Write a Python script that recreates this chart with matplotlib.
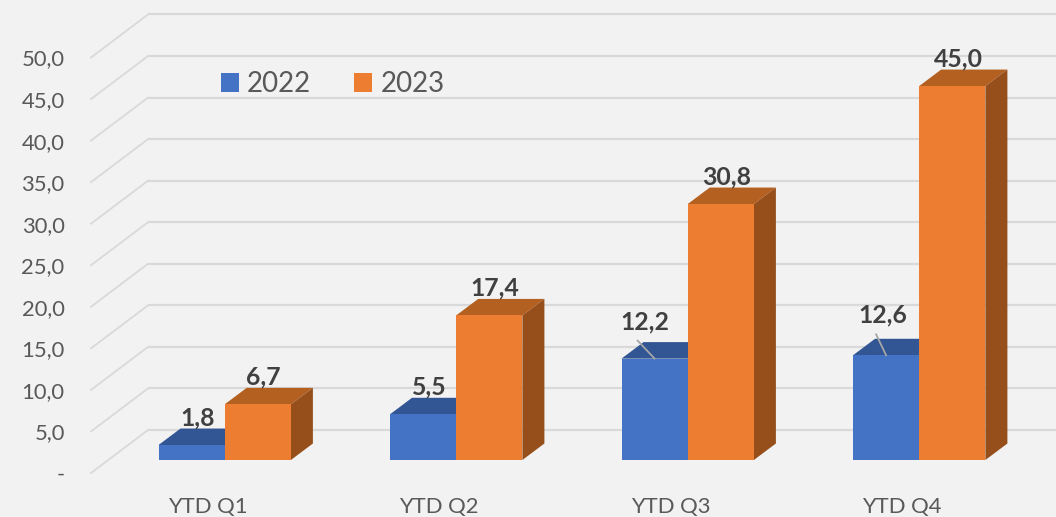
import numpy as np
import matplotlib
matplotlib.use("Agg")
import matplotlib.pyplot as plt
from matplotlib.patches import Polygon

categories = ["YTD Q1", "YTD Q2", "YTD Q3", "YTD Q4"]
series_2022 = [1.8, 5.5, 12.2, 12.6]
series_2023 = [6.7, 17.4, 30.8, 45.0]
ticks = [0, 5, 10, 15, 20, 25, 30, 35, 40, 45, 50]

W, H = 1056, 517
PX = 8.31                 # pixels per value unit
FLOOR_PX = 473            # pixel row of the front floor edge
BASE_PX = 460             # pixel row of the bar feet
front_off = (BASE_PX - FLOOR_PX) / PX
back_off = (BASE_PX - 430) / PX
depth_x, depth_y = 22.0, 16.5 / PX
bar_w = 66.2
x0, step = 158.5, 231.5
wall_x = 148

BG = "#F2F2F2"
plt.rcParams["font.family"] = ["Lato", "DejaVu Sans"]
fig = plt.figure(figsize=(W / 100, H / 100), dpi=100, facecolor=BG)
ax = fig.add_axes([91 / W, (H - FLOOR_PX) / H, (W - 91) / W, FLOOR_PX / H], facecolor=BG)
ax.set_xlim(91, W)
ax.set_ylim(front_off, BASE_PX / PX)
for s in ax.spines.values():
    s.set_visible(False)

def fmt(v):
    return f"{v:.1f}".replace(".", ",")

# walls
for t in ticks:
    ax.plot([wall_x, W], [t + back_off] * 2, color="#D9D9D9", lw=1.6, zorder=1, solid_capstyle="butt")
    ax.plot([91, wall_x], [t + front_off, t + back_off], color="#D9D9D9", lw=1.3, zorder=1, clip_on=False)

xs = x0 + step * np.arange(len(categories))

def bars(x, vals, front, top, side, z, label):
    ax.bar(x, vals, bar_w, align="edge", color=front, zorder=z + 1, label=label)
    for xi, v in zip(x, vals):
        ax.add_patch(Polygon([(xi, v), (xi + bar_w, v), (xi + bar_w + depth_x, v + depth_y), (xi + depth_x, v + depth_y)],
                             closed=True, facecolor=top, edgecolor="none", zorder=z))
        ax.add_patch(Polygon([(xi + bar_w, 0), (xi + bar_w + depth_x, depth_y), (xi + bar_w + depth_x, v + depth_y), (xi + bar_w, v)],
                             closed=True, facecolor=side, edgecolor="none", zorder=z))

bars(xs, series_2022, "#4472C4", "#325593", "#2B4A80", 2, "2022")
bars(xs + bar_w, series_2023, "#ED7D31", "#B46021", "#964F1B", 4, "2023")

# data labels
LABEL_SIZE = 17.8
lab_2022 = [(6.5, 27.5), (6.5, 27.5), (-10, 37), (-3.5, 40)]
for xi, v, (dx, dy) in zip(xs, series_2022, lab_2022):
    ax.text(xi + bar_w / 2 + dx, v + dy / PX, fmt(v), ha="center", va="center", fontsize=LABEL_SIZE,
            fontweight="bold", color="#404040", zorder=10)
for xi, v in zip(xs + bar_w, series_2023):
    ax.text(xi + bar_w / 2 + 6, v + 27.5 / PX, fmt(v), ha="center", va="center", fontsize=LABEL_SIZE,
            fontweight="bold", color="#404040", zorder=10)

# leader lines for the two moved labels
for i, (dx, dy) in zip([2, 3], [(-17, 18), (-10, 21)]):
    xa = xs[i] + bar_w / 2
    v = series_2022[i]
    ax.plot([xa, xa + dx], [v, v + dy / PX], color="#A6A6A6", lw=1.3, zorder=9)

# axes text
ax.set_yticks([t + front_off for t in ticks], ["-" if t == 0 else fmt(t) for t in ticks])
ax.set_xticks(xs + bar_w - 17, categories)
ax.tick_params(axis="both", length=0, labelcolor="#595959", labelsize=15.8)
ax.tick_params(axis="y", pad=19)
ax.tick_params(axis="x", pad=17.5)
ax.grid(False)

leg = ax.legend(loc="upper left", bbox_to_anchor=(130 / (W - 91), 1 - 71.5 / FLOOR_PX), ncols=2, frameon=False,
                fontsize=20, handlelength=0.65, handleheight=0.65, handletextpad=0.29,
                columnspacing=1.55, labelcolor="#595959", borderpad=0, borderaxespad=0)
leg.set_zorder(11)

fig.savefig("out.png", dpi=100, facecolor=BG)
